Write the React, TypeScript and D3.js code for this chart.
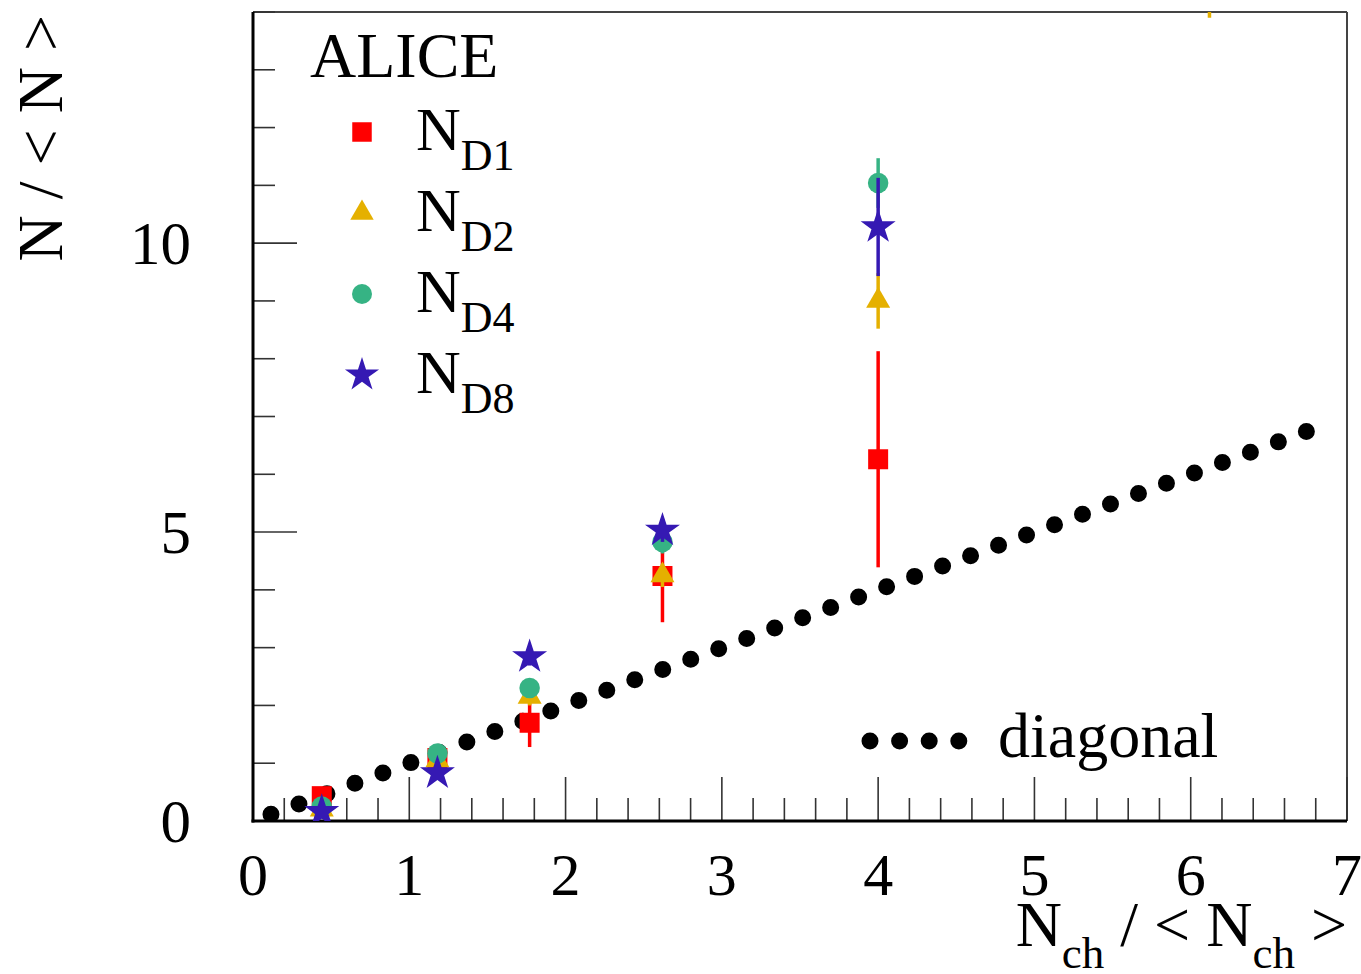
import React from "react";
import * as d3 from "d3";

const xPos = [0.44, 1.18, 1.77, 2.62, 4.0];
const nd1 = [0.43, 1.09, 1.70, 4.24, 6.26];
const nd1Err = [0.08, 0.08, 0.42, 0.8, 1.87];
const nd2X = [0.44, 1.18, 1.77, 2.62, 4.0, 6.12];
const nd2 = [0.2, 1.05, 2.15, 4.25, 9.0, 16.5];
const nd2Err = [0.05, 0.05, 0.15, 0.2, 0.48, 2.6];
const nd4 = [0.25, 1.17, 2.3, 4.83, 11.04];
const nd4Err = [0.05, 0.05, 0.1, 0.2, 0.43];
const nd8 = [0.16, 0.83, 2.84, 5.03, 10.28];
const nd8Err = [0.05, 0.05, 0.15, 0.2, 0.85];
const diagonal = [0.115, 6.74];
const xTicks = [0, 1, 2, 3, 4, 5, 6, 7];
const yTicks = [0, 5, 10];

const W = 1361, H = 974;
const L = 253, R = 1347, T = 12, B = 821;
const FONT = "'Liberation Serif', 'Times New Roman', serif";

type Series = { name: string; sub: string; color: string; sym: d3.SymbolType; size: number; xs: number[]; ys: number[]; errs: number[] };

const series: Series[] = [
  { name: "N", sub: "D1", color: "#ff0000", sym: d3.symbolSquare, size: 400, xs: xPos, ys: nd1, errs: nd1Err },
  { name: "N", sub: "D2", color: "#e5b000", sym: d3.symbolTriangle, size: 250, xs: nd2X, ys: nd2, errs: nd2Err },
  { name: "N", sub: "D4", color: "#36b384", sym: d3.symbolCircle, size: 330, xs: xPos, ys: nd4, errs: nd4Err },
  { name: "N", sub: "D8", color: "#3519b3", sym: d3.symbolStar, size: 380, xs: xPos, ys: nd8, errs: nd8Err },
];

export default function App() {
  const x = d3.scaleLinear().domain([0, 7]).range([L, R]);
  const y = d3.scaleLinear().domain([0, 14]).range([B, T]);
  const xMinor = d3.range(0, 7.0001, 0.2).filter((v) => Math.abs(v - Math.round(v)) > 1e-6);
  const yMinor = d3.range(0, 14.0001, 1).filter((v) => v % 5 !== 0);
  const diagLine = d3.line<number>().x((d) => x(d)).y((d) => y(d));
  const dLen = Math.hypot(x(diagonal[1]) - x(diagonal[0]), y(diagonal[1]) - y(diagonal[0]));
  const gap = dLen / Math.round(dLen / 29.5);

  return (
    <svg width={W} height={H} style={{ position: "absolute", left: 0, top: 0, background: "#fff" }} fontFamily={FONT}>
      <defs>
        <clipPath id="plot">
          <rect x={L} y={T} width={R - L} height={B - T} />
        </clipPath>
      </defs>
      {/* frame */}
      <line x1={L} y1={T} x2={R} y2={T} stroke="#444" strokeWidth={2} />
      <line x1={R} y1={T} x2={R} y2={B} stroke="#444" strokeWidth={2} />
      {/* ticks */}
      {xTicks.map((t) => (
        <line key={"xM" + t} x1={x(t)} x2={x(t)} y1={B} y2={B - 44} stroke="#333" strokeWidth={1.6} />
      ))}
      {xMinor.map((t, i) => (
        <line key={"xm" + i} x1={x(t)} x2={x(t)} y1={B} y2={B - 23} stroke="#333" strokeWidth={1.6} />
      ))}
      {yTicks.map((t) => (
        <line key={"yM" + t} x1={L} x2={L + 44} y1={y(t)} y2={y(t)} stroke="#333" strokeWidth={1.6} />
      ))}
      {yMinor.map((t, i) => (
        <line key={"ym" + i} x1={L} x2={L + 22} y1={y(t)} y2={y(t)} stroke="#333" strokeWidth={1.6} />
      ))}
      <line x1={L} y1={T} x2={L} y2={B + 1.5} stroke="#000" strokeWidth={3} />
      <line x1={L - 1.5} y1={B} x2={R} y2={B} stroke="#000" strokeWidth={3} />
      {/* tick labels */}
      {xTicks.map((t) => (
        <text key={"xl" + t} x={x(t)} y={895} textAnchor="middle" fontSize={60}>{t}</text>
      ))}
      {yTicks.map((t) => (
        <text key={"yl" + t} x={191} y={y(t) + 21} textAnchor="end" fontSize={61}>{t}</text>
      ))}
      {/* axis titles */}
      <text x={1347} y={946} textAnchor="end" fontSize={64}>
        N<tspan fontSize={45} dy={22}>ch</tspan><tspan dy={-22}> / &lt; N</tspan><tspan fontSize={45} dy={22}>ch</tspan><tspan dy={-22}> &gt;</tspan>
      </text>
      <text transform="translate(62,15) rotate(-90)" textAnchor="end" fontSize={64}>N / &lt; N &gt;</text>
      {/* diagonal */}
      <g clipPath="url(#plot)">
        <path d={diagLine(diagonal) || ""} fill="none" stroke="#000" strokeWidth={17} strokeLinecap="round" strokeDasharray={`0 ${gap}`} />
        {series.map((s) => (
          <g key={s.sub}>
            {s.xs.map((xv, i) => (
              <line key={"e" + i} x1={x(xv)} x2={x(xv)} y1={y(s.ys[i] - s.errs[i])} y2={y(s.ys[i] + s.errs[i])} stroke={s.color} strokeWidth={3.5} />
            ))}
            {s.xs.map((xv, i) => (
              <path key={"m" + i} transform={`translate(${x(xv)},${y(s.ys[i])})`} d={d3.symbol(s.sym, s.size)() || ""} fill={s.color} />
            ))}
          </g>
        ))}
      </g>
      {/* legend */}
      <text x={310} y={77} fontSize={64}>ALICE</text>
      {series.map((s, i) => {
        const by = 150 + i * 81;
        return (
          <g key={"lg" + s.sub}>
            <path transform={`translate(362,${by - 18})`} d={d3.symbol(s.sym, s.size * 0.95)() || ""} fill={s.color} />
            <text x={416} y={by} fontSize={62}>
              {s.name}<tspan fontSize={44} dy={20}>{s.sub}</tspan>
            </text>
          </g>
        );
      })}
      <line x1={870} x2={959} y1={741} y2={741} stroke="#000" strokeWidth={17} strokeLinecap="round" strokeDasharray="0 29.6" />
      <text x={998} y={757} fontSize={64}>diagonal</text>
    </svg>
  );
}
